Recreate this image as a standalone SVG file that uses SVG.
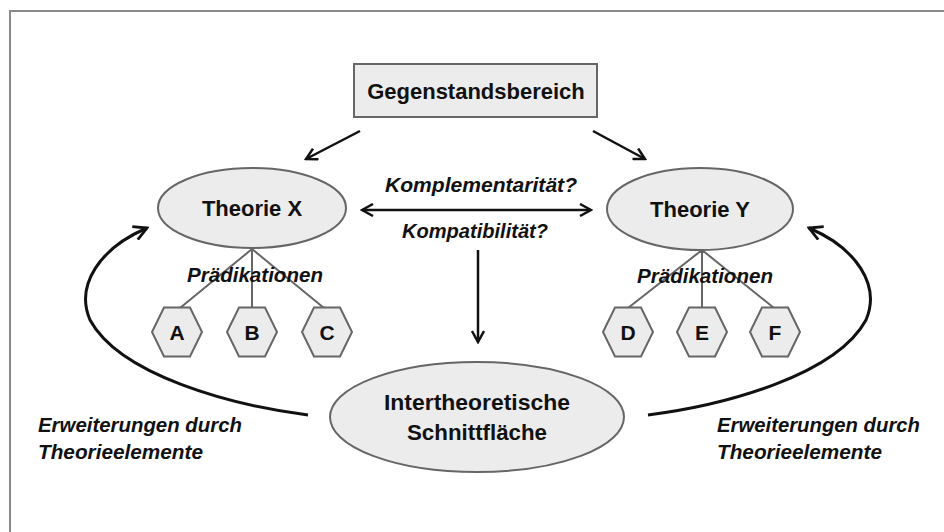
<svg xmlns="http://www.w3.org/2000/svg" width="944" height="532" viewBox="0 0 944 532">
<style>
.node{fill:#ececec;stroke:#666;stroke-width:2}
.lbl{font-family:"Liberation Sans",Arial,sans-serif;font-weight:bold;font-size:22px;fill:#111;text-anchor:middle}
.it{font-family:"Liberation Sans",Arial,sans-serif;font-weight:bold;font-style:italic;font-size:20px;fill:#111}
.hexl{font-family:"Liberation Sans",Arial,sans-serif;font-weight:bold;font-size:21px;fill:#111;text-anchor:middle}
.br{stroke:#666;stroke-width:2;fill:none}
.arr{stroke:#111;stroke-width:2.5;fill:none}
.curve{stroke:#111;stroke-width:3;fill:none}
</style>
<defs>
<marker id="ah" viewBox="0 0 14 14" refX="12" refY="7" markerWidth="14" markerHeight="14" markerUnits="userSpaceOnUse" orient="auto-start-reverse">
<path d="M1,1 L12,7 L1,13" fill="none" stroke="#111" stroke-width="2.5"/>
</marker>
<marker id="ah2" viewBox="0 0 16 16" refX="14" refY="8" markerWidth="16" markerHeight="16" markerUnits="userSpaceOnUse" orient="auto">
<path d="M1,1 L14,8 L1,15" fill="none" stroke="#111" stroke-width="2.8"/>
</marker>
<polygon id="hex" points="-25,0 -13,-24.5 13,-24.5 25,0 13,24.5 -13,24.5"/>
</defs>
<rect width="944" height="532" fill="#ffffff"/>
<path d="M10,532 L10,11 L944,11" fill="none" stroke="#8a8a8a" stroke-width="2"/>

<g id="connectors">
<path class="arr" d="M360,131 L306,159" marker-end="url(#ah)"/>
<path class="arr" d="M593,131 L645,159" marker-end="url(#ah)"/>
<path class="arr" d="M362,210 L591,210" marker-start="url(#ah)" marker-end="url(#ah)"/>
<path class="arr" d="M478,250 L478,342" marker-end="url(#ah)"/>
<path class="br" d="M252,249 L180,308 M252,249 L252,308 M252,249 L324,308"/>
<path class="br" d="M702,250 L628,308 M702,250 L702,308 M702,250 L774,308"/>
<path class="curve" d="M308,415 C230,405 120,375 90,320 C75,285 100,248 147,228" marker-end="url(#ah2)"/>
<path class="curve" d="M648,415 C726,405 836,375 866,320 C881,285 856,248 809,228" marker-end="url(#ah2)"/>
</g>

<g id="gegenstandsbereich">
<rect class="node" x="354" y="64" width="243" height="53"/>
<text class="lbl" x="476" y="99">Gegenstandsbereich</text>
</g>

<g id="theorie-x">
<ellipse class="node" cx="252" cy="208" rx="94" ry="40"/>
<text class="lbl" x="252" y="216">Theorie X</text>
</g>

<g id="theorie-y">
<ellipse class="node" cx="700" cy="209" rx="93" ry="41"/>
<text class="lbl" x="700" y="217">Theorie Y</text>
</g>

<g id="label-komplementaritaet">
<text class="it" x="385" y="192" textLength="192" lengthAdjust="spacingAndGlyphs">Komplementarität?</text>
</g>
<g id="label-kompatibilitaet">
<text class="it" x="402" y="238" textLength="146" lengthAdjust="spacingAndGlyphs">Kompatibilität?</text>
</g>

<g id="praedikationen-x">
<text class="it" x="187" y="282" textLength="136" lengthAdjust="spacingAndGlyphs">Prädikationen</text>
</g>
<g id="praedikationen-y">
<text class="it" x="637" y="283" textLength="136" lengthAdjust="spacingAndGlyphs">Prädikationen</text>
</g>

<g id="hex-a"><use href="#hex" x="177" y="332" class="node"/><text class="hexl" x="177" y="340">A</text></g>
<g id="hex-b"><use href="#hex" x="252" y="332" class="node"/><text class="hexl" x="252" y="340">B</text></g>
<g id="hex-c"><use href="#hex" x="327" y="332" class="node"/><text class="hexl" x="327" y="340">C</text></g>
<g id="hex-d"><use href="#hex" x="628" y="332" class="node"/><text class="hexl" x="628" y="340">D</text></g>
<g id="hex-e"><use href="#hex" x="702" y="332" class="node"/><text class="hexl" x="702" y="340">E</text></g>
<g id="hex-f"><use href="#hex" x="775" y="332" class="node"/><text class="hexl" x="775" y="340">F</text></g>

<g id="schnittflaeche">
<ellipse class="node" cx="477" cy="417" rx="147" ry="55"/>
<text class="lbl" x="477" y="410" textLength="186" lengthAdjust="spacingAndGlyphs">Intertheoretische</text>
<text class="lbl" x="477" y="440" textLength="140" lengthAdjust="spacingAndGlyphs">Schnittfläche</text>
</g>

<g id="label-erweiterungen-links">
<text class="it" x="38" y="432" textLength="204" lengthAdjust="spacingAndGlyphs">Erweiterungen durch</text>
<text class="it" x="38" y="459" textLength="165" lengthAdjust="spacingAndGlyphs">Theorieelemente</text>
</g>
<g id="label-erweiterungen-rechts">
<text class="it" x="717" y="432" textLength="203" lengthAdjust="spacingAndGlyphs">Erweiterungen durch</text>
<text class="it" x="717" y="459" textLength="165" lengthAdjust="spacingAndGlyphs">Theorieelemente</text>
</g>
</svg>
